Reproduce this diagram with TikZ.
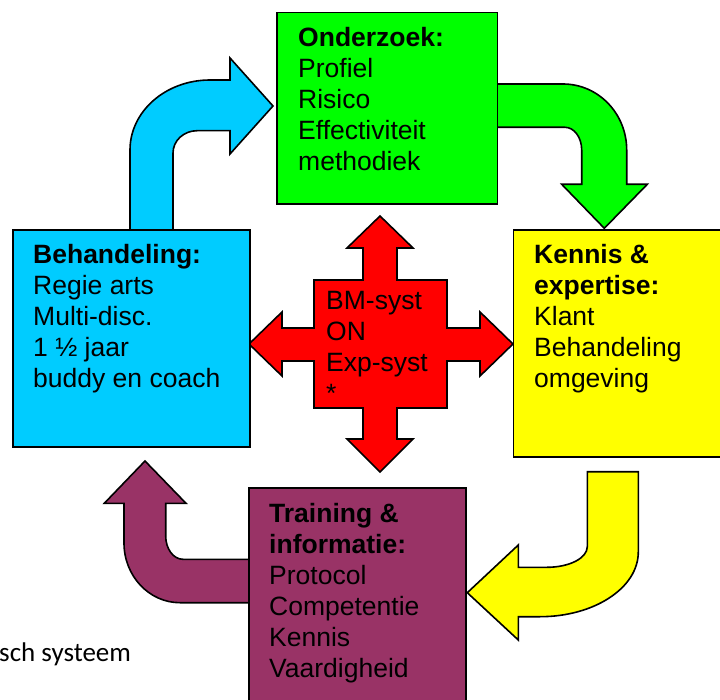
\documentclass[tikz,border=0pt]{standalone}
\usepackage{fontspec}
\setmainfont{Liberation Sans}
\newfontfamily\calfont{Carlito}
\definecolor{cblue}{HTML}{00CCFF}
\definecolor{cgreen}{HTML}{00FF00}
\definecolor{cyellow}{HTML}{FFFF00}
\definecolor{cpurple}{HTML}{993366}
\definecolor{cred}{HTML}{FF0000}
\begin{document}
\begin{tikzpicture}[x=1pt,y=-1pt,line join=miter,
  box/.style={draw=black,line width=1.6pt,rectangle,inner sep=0pt,anchor=north west},
  blockarrow/.style={draw=black,line width=1.6pt},
  txt/.style={anchor=base west,inner sep=0pt,font=\fontsize{26.5}{31}\selectfont}]
\useasboundingbox (0,0) rectangle (720,700);
% block arrows
\draw[blockarrow,fill=cblue] (130,230) -- (130,150)
  .. controls (130,111.3) and (165.8,80) .. (210,80) -- (230,80) -- (230,58)
  -- (273,106) -- (230,154) -- (230,130.7) -- (197,130.7)
  .. controls (183.7,130.7) and (173,140.7) .. (173,153) -- (173,230) -- cycle;
\draw[blockarrow,fill=cgreen] (496,84) -- (563,84)
  .. controls (598.2,84) and (626.7,113.5) .. (626.7,150) -- (626.7,184.3)
  -- (647.3,184.3) -- (604.3,228.3) -- (561.7,184.3) -- (581.7,184.3) -- (581.7,150)
  .. controls (581.7,137.5) and (574.2,127.3) .. (565,127.3) -- (496,127.3) -- cycle;
\draw[blockarrow,fill=cyellow] (587.3,471.7) -- (638.3,471.7) -- (638.3,552)
  .. controls (638.3,588) and (594,616.7) .. (540,616.7) -- (518.3,616.7)
  -- (518.3,640) -- (467.3,592.7) -- (518.3,545) -- (518.3,567.3) -- (547,567.3)
  .. controls (569.3,567.3) and (587.3,558.1) .. (587.3,546.7) -- cycle;
\draw[blockarrow,fill=cpurple] (249,559.3) -- (183,559.3)
  .. controls (173.4,559.3) and (165.7,548.9) .. (165.7,536) -- (165.7,503.3)
  -- (186,503.3) -- (145,461) -- (104.3,503.3) -- (124,503.3) -- (124,543)
  .. controls (124,576) and (149.1,602.7) .. (180,602.7) -- (249,602.7) -- cycle;
% red cross
\draw[blockarrow,fill=cred] (314,280) -- (363,280) -- (363,248) -- (347,248) -- (380,216)
  -- (413,248) -- (397,248) -- (397,280) -- (447,280) -- (447,328) -- (480,328)
  -- (480,312) -- (513,344) -- (480,376) -- (480,361) -- (447,361) -- (447,408)
  -- (397,408) -- (397,439) -- (413,439) -- (380,472) -- (347,439) -- (363,439)
  -- (363,408) -- (314,408) -- (314,361) -- (282,361) -- (282,376) -- (249,344)
  -- (282,312) -- (282,328) -- (314,328) -- cycle;
% boxes
\node[box,fill=cgreen,minimum width=220.7pt,minimum height=191.3pt] (onderzoek) at (276,11.7) {};
\node[box,fill=cblue,minimum width=237pt,minimum height=217pt] (behandeling) at (12,229) {};
\node[box,fill=cyellow,minimum width=215pt,minimum height=227pt] (kennis) at (512.5,229) {};
\node[box,fill=cpurple,minimum width=217pt,minimum height=220pt] (training) at (248,487) {};
% texts
\node[txt] (tonderzoek) at (298,46.7) {\begin{tabular}[t]{@{}l@{}}\textbf{Onderzoek:}\\Profiel\\Risico\\Effectiviteit\\methodiek\end{tabular}};
\node[txt] (tbehandeling) at (33,264) {\begin{tabular}[t]{@{}l@{}}\textbf{Behandeling:}\\Regie arts\\Multi-disc.\\1 ½ jaar\\buddy en coach\end{tabular}};
\node[txt] (tkennis) at (534,264) {\begin{tabular}[t]{@{}l@{}}\textbf{Kennis \&}\\\textbf{expertise:}\\Klant\\Behandeling\\omgeving\end{tabular}};
\node[txt] (ttraining) at (269,522.7) {\begin{tabular}[t]{@{}l@{}}\textbf{Training \&}\\\textbf{informatie:}\\Protocol\\Competentie\\Kennis\\Vaardigheid\end{tabular}};
\node[txt] (tcross) at (326,310) {\begin{tabular}[t]{@{}l@{}}BM-syst\\ON\\Exp-syst\\{}*\end{tabular}};
\node[anchor=base west,inner sep=0pt,font=\calfont\fontsize{27}{31}\selectfont] (tsys) at (-1,661.7) {sch systeem};
\end{tikzpicture}
\end{document}
